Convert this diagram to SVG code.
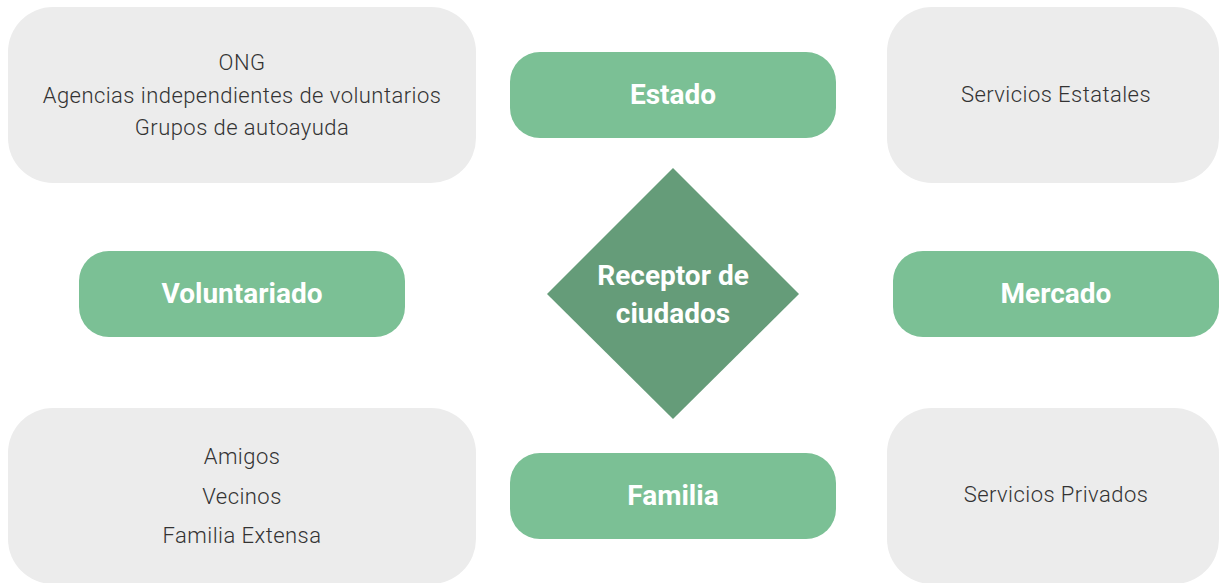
<svg xmlns="http://www.w3.org/2000/svg" width="1222" height="583" viewBox="0 0 1222 583">
<style>
.box{fill:#ececec}
.pill{fill:#7bc095}
.dia{fill:#659c79}
.t{font-family:Roboto,"Liberation Sans",sans-serif;font-size:22px;font-weight:300;fill:#333;text-anchor:middle;letter-spacing:0.45px}
.b{font-family:Roboto,"Liberation Sans",sans-serif;font-size:28px;font-weight:700;fill:#fff;text-anchor:middle}
</style>
<rect width="1222" height="583" fill="#fff"/>
<g id="ong">
<rect class="box" x="8" y="7" width="468" height="176" rx="45"/>
<text class="t" x="242" y="70">ONG</text>
<text class="t" x="242" y="103">Agencias independientes de voluntarios</text>
<text class="t" x="242" y="135">Grupos de autoayuda</text>
</g>
<g id="servicios-estatales">
<rect class="box" x="887" y="7" width="332" height="176" rx="45"/>
<text class="t" x="1056" y="102">Servicios Estatales</text>
</g>
<g id="amigos">
<rect class="box" x="8" y="408" width="468" height="176" rx="45"/>
<text class="t" x="242" y="464">Amigos</text>
<text class="t" x="242" y="504">Vecinos</text>
<text class="t" x="242" y="543">Familia Extensa</text>
</g>
<g id="servicios-privados">
<rect class="box" x="887" y="408" width="332" height="176" rx="45"/>
<text class="t" x="1056" y="502">Servicios Privados</text>
</g>
<g id="estado">
<rect class="pill" x="510" y="52" width="326" height="86" rx="30"/>
<text class="b" x="673" y="104">Estado</text>
</g>
<g id="voluntariado">
<rect class="pill" x="79" y="251" width="326" height="86" rx="30"/>
<text class="b" x="242" y="303">Voluntariado</text>
</g>
<g id="mercado">
<rect class="pill" x="893" y="251" width="326" height="86" rx="30"/>
<text class="b" x="1056" y="303">Mercado</text>
</g>
<g id="familia">
<rect class="pill" x="510" y="453" width="326" height="86" rx="30"/>
<text class="b" x="673" y="505">Familia</text>
</g>
<g id="receptor">
<polygon class="dia" points="673,168 799,294 673,419 547,294"/>
<text class="b" x="673" y="285">Receptor de</text>
<text class="b" x="673" y="323">ciudados</text>
</g>
<g id="connectors"></g>
</svg>
